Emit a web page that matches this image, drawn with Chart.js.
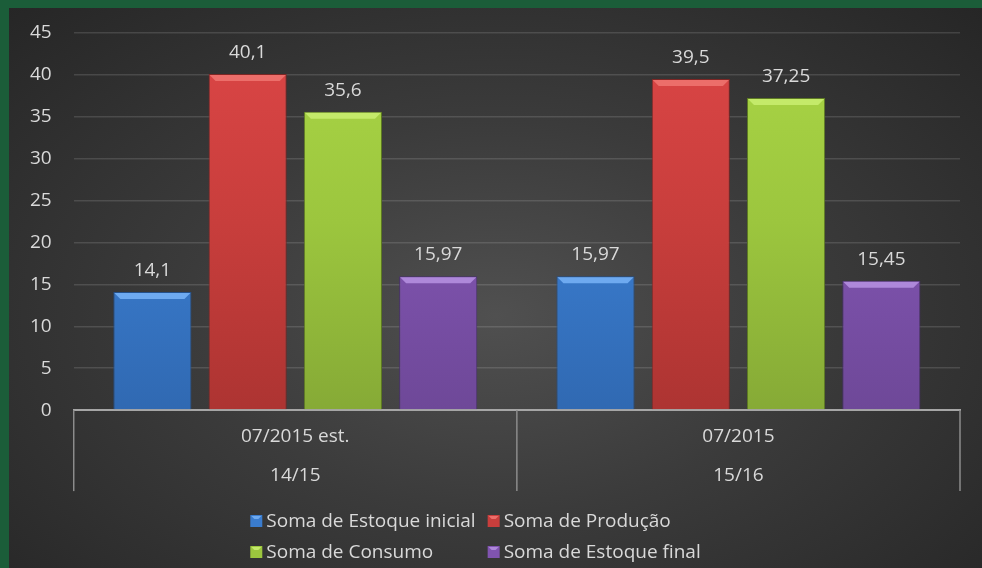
<!DOCTYPE html>
<html>
<head>
<meta charset="utf-8">
<script src="https://cdn.jsdelivr.net/npm/chart.js@4"></script>
<style>
    html, body { margin: 0; padding: 0; }
    body { width: 982px; height: 568px; background: #1b5d39; position: relative; overflow: hidden; }
    #wrap {
        position: absolute; left: 9px; top: 8px; width: 973px; height: 560px;
        background: radial-gradient(ellipse at 50% 55%, #505050 0%, #3b3b3b 45%, #262626 100%);
    }
</style>
</head>
<body>
<div id="wrap"><canvas id="myChart" width="973" height="560"></canvas></div>
<script>
const categories = [
    ['07/2015 est.', '14/15'],
    ['07/2015', '15/16']
];

const seriesNames = [
    'Soma de Estoque inicial',
    'Soma de Produção',
    'Soma de Consumo',
    'Soma de Estoque final'
];

const estoqueInicial = [14.1, 15.97];
const producao = [40.1, 39.5];
const consumo = [35.6, 37.25];
const estoqueFinal = [15.97, 15.45];

const yTicks = [0, 5, 10, 15, 20, 25, 30, 35, 40, 45];

const FONT = 'Open Sans';
const SIZE = 19;
const TEXT = '#d9d9d9';

// top, middle, bottom, bevel, edge colours for each series
const palette = [
    ['#4a8ee0', '#3a7cce', '#3069b2', '#6eaaf0', '#24508a'],
    ['#dc4646', '#c83e3c', '#ad3432', '#ec6e6a', '#7e2624'],
    ['#aad646', '#9cc63e', '#86aa36', '#c4ea6a', '#5e7a24'],
    ['#8e62c0', '#8054b0', '#6e4898', '#ae88da', '#4a3070']
];

function barGradient(idx) {
    return (ctx) => {
        const area = ctx.chart.chartArea;
        if (!area) return palette[idx][1];
        const g = ctx.chart.ctx.createLinearGradient(0, area.top, 0, area.bottom);
        g.addColorStop(0, palette[idx][0]);
        g.addColorStop(0.5, palette[idx][1]);
        g.addColorStop(1, palette[idx][2]);
        return g;
    };
}

const seriesValues = [estoqueInicial, producao, consumo, estoqueFinal];

const data = {
    labels: categories,
    datasets: seriesValues.map((vals, i) => ({
        label: seriesNames[i],
        data: vals,
        backgroundColor: barGradient(i),
        borderColor: palette[i][4],
        borderWidth: 1,
        categoryPercentage: 0.86,
        barPercentage: 0.82
    }))
};

const fmt = (v) => String(v).replace('.', ',');

function drawBevelBox(ctx, i, left, top, w, h, bev) {
    ctx.fillStyle = palette[i][1];
    ctx.fillRect(left, top, w, h);
    ctx.fillStyle = palette[i][3];
    ctx.beginPath();
    ctx.moveTo(left + 1, top + 1);
    ctx.lineTo(left + w - 1, top + 1);
    ctx.lineTo(left + w - bev, top + bev);
    ctx.lineTo(left + bev, top + bev);
    ctx.closePath();
    ctx.fill();
}

// value labels, bevel on bars, category separators and a 2x2 legend
const barExtras = {
    id: 'barExtras',
    afterDatasetsDraw(chart) {
        const ctx = chart.ctx;
        ctx.save();
        chart.data.datasets.forEach((ds, i) => {
            const meta = chart.getDatasetMeta(i);
            meta.data.forEach((bar, j) => {
                const left = bar.x - bar.width / 2;
                ctx.fillStyle = palette[i][3];
                ctx.beginPath();
                ctx.moveTo(left + 1, bar.y + 1);
                ctx.lineTo(left + bar.width - 1, bar.y + 1);
                ctx.lineTo(left + bar.width - 7, bar.y + 7);
                ctx.lineTo(left + 7, bar.y + 7);
                ctx.closePath();
                ctx.fill();

                ctx.fillStyle = TEXT;
                ctx.font = SIZE + 'px "' + FONT + '"';
                ctx.textAlign = 'center';
                ctx.textBaseline = 'alphabetic';
                ctx.fillText(fmt(ds.data[j]), bar.x, bar.y - 16);
            });
        });
        ctx.restore();
    },
    afterDraw(chart) {
        const ctx = chart.ctx;
        const x = chart.scales.x;
        ctx.save();
        // separators between the categories, below the axis line
        ctx.strokeStyle = '#8c8c8c';
        ctx.lineWidth = 1.5;
        const half = (x.getPixelForValue(1) - x.getPixelForValue(0)) / 2;
        const edges = [x.getPixelForValue(0) - half];
        categories.forEach((c, k) => edges.push(x.getPixelForValue(k) + half));
        edges.forEach((px) => {
            ctx.beginPath();
            ctx.moveTo(px, x.top);
            ctx.lineTo(px, x.top + 81);
            ctx.stroke();
        });

        // legend in two columns
        ctx.font = SIZE + 'px "' + FONT + '"';
        ctx.textBaseline = 'middle';
        ctx.textAlign = 'left';
        const box = 12, gap = 4, colGap = 12;
        const col1 = Math.max(ctx.measureText(seriesNames[0]).width, ctx.measureText(seriesNames[2]).width);
        const col2 = Math.max(ctx.measureText(seriesNames[1]).width, ctx.measureText(seriesNames[3]).width);
        const total = box + gap + col1 + colGap + box + gap + col2;
        const startX = chart.width / 2 - 20 - total / 2;
        const colX = [startX, startX + box + gap + col1 + colGap];
        const rowY = [513, 544];
        seriesNames.forEach((name, i) => {
            const cx = colX[i % 2];
            const cy = rowY[Math.floor(i / 2)];
            drawBevelBox(ctx, i, cx, cy - 6, box, box, 4);
            ctx.fillStyle = TEXT;
            ctx.fillText(name, cx + box + gap, cy + 1);
        });
        ctx.restore();
    }
};

const config = {
    type: 'bar',
    data: data,
    options: {
        responsive: false,
        animation: false,
        layout: { padding: { top: 25, right: 22, bottom: 66, left: 17 } },
        scales: {
            y: {
                min: 0,
                max: 45,
                afterBuildTicks: (axis) => { axis.ticks = yTicks.map(v => ({ value: v })); },
                grid: { color: 'rgba(255,255,255,0.13)', lineWidth: 1.5, drawTicks: true, tickLength: 18, tickColor: 'rgba(0,0,0,0)' },
                border: { display: false },
                ticks: { color: TEXT, font: { family: FONT, size: SIZE }, padding: 4 }
            },
            x: {
                grid: { display: false, drawTicks: false },
                border: { display: true, color: '#a6a6a6', width: 2 },
                ticks: {
                    color: TEXT,
                    font: { family: FONT, size: SIZE, lineHeight: 2.05 },
                    padding: 7,
                    maxRotation: 0,
                    autoSkip: false
                }
            }
        },
        plugins: {
            legend: { display: false },
            tooltip: { enabled: false }
        }
    },
    plugins: [barExtras]
};

const myChart = new Chart(
    document.getElementById('myChart'),
    config
);
</script>
</body>
</html>
